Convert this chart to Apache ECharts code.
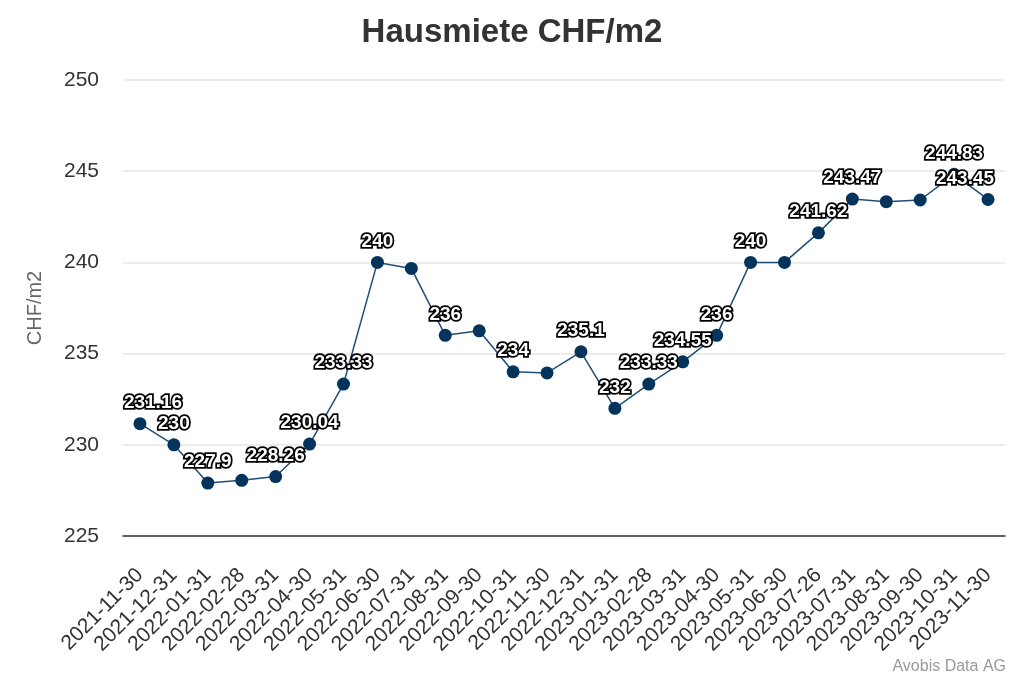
<!DOCTYPE html>
<html><head><meta charset="utf-8">
<script src="https://cdn.jsdelivr.net/npm/echarts@6/dist/echarts.min.js"></script>
<style>html,body{margin:0;padding:0;background:#fff}#c{width:1024px;height:683px}</style>
</head><body><div id="c"></div>
<script>
const categories = ["2021-11-30","2021-12-31","2022-01-31","2022-02-28","2022-03-31","2022-04-30","2022-05-31","2022-06-30","2022-07-31","2022-08-31","2022-09-30","2022-10-31","2022-11-30","2022-12-31","2023-01-31","2023-02-28","2023-03-31","2023-04-30","2023-05-31","2023-06-30","2023-07-26","2023-07-31","2023-08-31","2023-09-30","2023-10-31","2023-11-30"];
const values = [231.16,230,227.9,228.05,228.26,230.04,233.33,240,239.67,236,236.25,234,233.94,235.1,232,233.33,234.55,236,240,240,241.62,243.47,243.33,243.42,244.83,243.45];
const labelled = [0,1,2,4,5,6,7,9,11,13,14,15,16,17,18,20,21,24,25];
const yTicks = {min:225,max:250,interval:5};

const data = values.map((v,i)=>{
  const o = {value:v, label:{show: labelled.includes(i)}};
  if(i===0) o.label.offset=[13,0];
  if(i===values.length-1) o.label.offset=[-23,0];
  return o;
});

const chart = echarts.init(document.getElementById('c'));
chart.setOption({
  animation:false,
  title:{text:'Hausmiete CHF/m2',left:'center',top:11,textStyle:{fontFamily:'Liberation Sans',fontSize:33,fontWeight:'bold',color:'#333'}},
  graphic:[{type:'text',right:18,bottom:8,style:{text:'Avobis Data AG',fontFamily:'Liberation Sans',fontSize:16,fill:'#999'}}],
  grid:{left:123,right:19,top:80,bottom:147},
  xAxis:{type:'category',data:categories,boundaryGap:true,
    axisLine:{lineStyle:{color:'#333',width:1.5}},axisTick:{show:false},
    axisLabel:{rotate:45,fontFamily:'Liberation Sans',fontSize:21,color:'#333',margin:36,interval:0}},
  yAxis:{type:'value',min:yTicks.min,max:yTicks.max,interval:yTicks.interval,
    name:'CHF/m2',nameLocation:'middle',nameGap:78,nameTextStyle:{fontFamily:'Liberation Sans',fontSize:20,color:'#666'},
    axisLabel:{fontFamily:'Liberation Sans',fontSize:21,color:'#333',margin:24},
    splitLine:{lineStyle:{color:'#e6e6e6',width:1.5}},axisLine:{show:false},axisTick:{show:false}},
  series:[{type:'line',data:data,symbol:'circle',symbolSize:13,
    lineStyle:{color:'#1f4e79',width:1.5},itemStyle:{color:'#04345c'},
    label:{position:'top',distance:5,fontFamily:'Liberation Sans',fontSize:19,fontWeight:'bold',color:'#fff',textBorderColor:'#000',textBorderWidth:3.5}}]
});
</script></body></html>
